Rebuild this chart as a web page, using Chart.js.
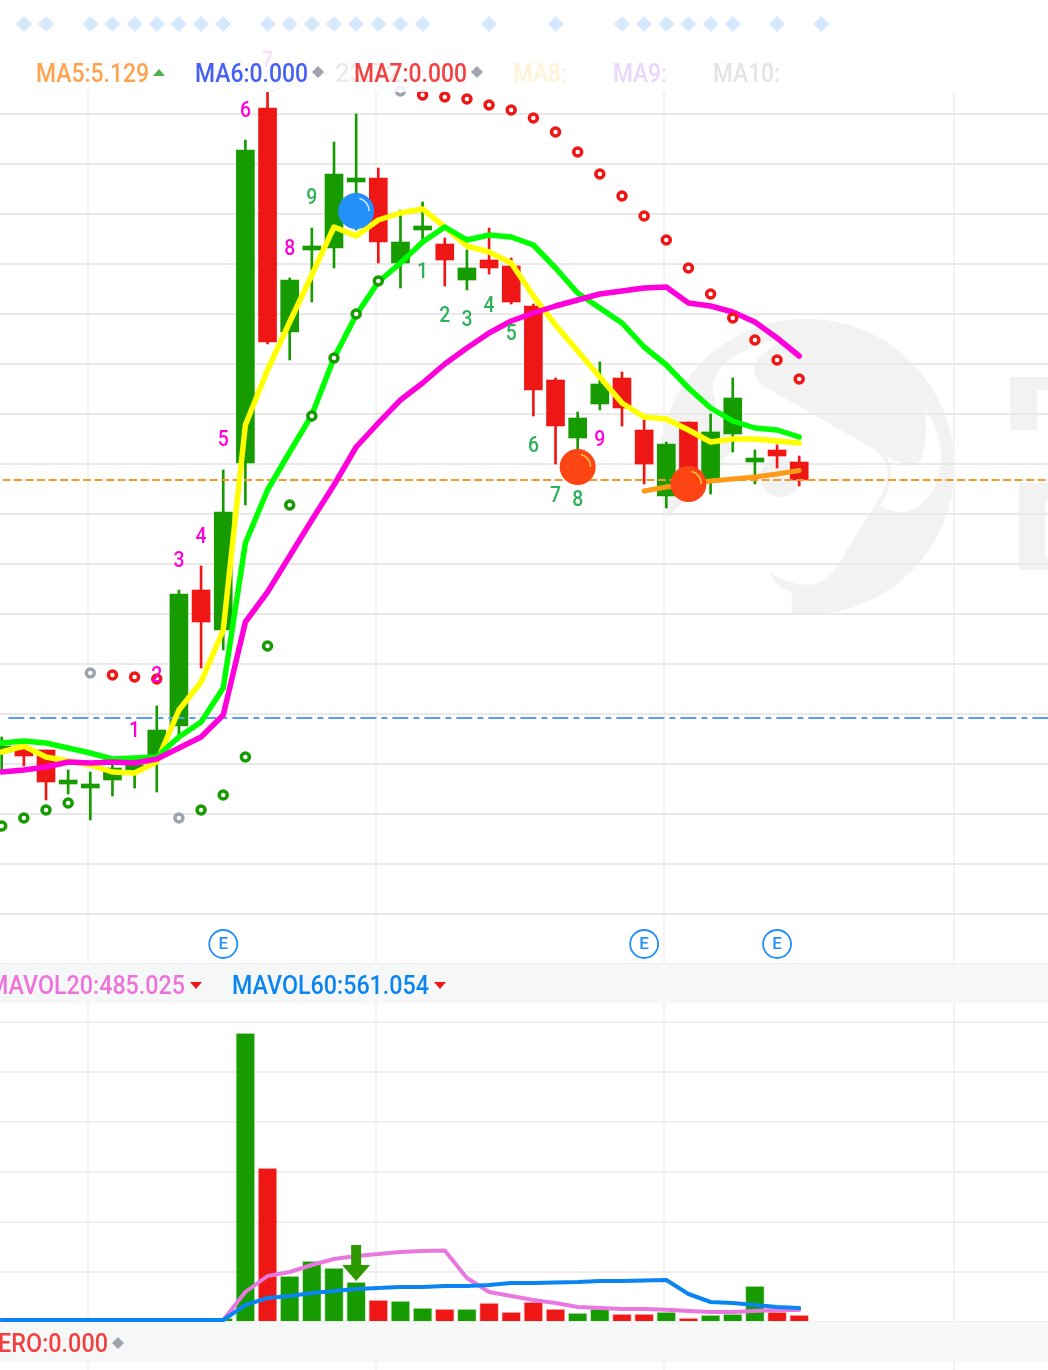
<!DOCTYPE html>
<html>
<head>
<meta charset="utf-8">
<title>K-line</title>
<script src="https://cdn.jsdelivr.net/npm/chart.js@4"></script>
<style>
html, body { margin: 0; padding: 0; background: #fff; overflow: hidden; }
canvas { display: block; }
</style>
</head>
<body>
<canvas id="kline" width="1048" height="1370"></canvas>
<script>
// candles, oldest first
const opens  = [4.566,4.570,4.570,4.502,4.494,4.510,4.528,4.558,4.618,4.890,4.810,5.144,5.854,5.406,5.570,5.574,5.706,5.714,5.544,5.610,5.582,5.510,5.550,5.538,5.458,5.310,5.194,5.262,5.314,5.210,5.078,5.226,5.110,5.202,5.146,5.170,5.146];
const closes = [4.578,4.558,4.506,4.510,4.502,4.534,4.540,4.610,4.882,4.826,5.046,5.770,5.386,5.510,5.578,5.722,5.714,5.586,5.586,5.618,5.550,5.534,5.534,5.466,5.290,5.218,5.234,5.302,5.254,5.142,5.182,5.110,5.206,5.274,5.154,5.158,5.110];
const highs  = [4.596,4.580,4.570,4.530,4.526,4.540,4.550,4.658,4.890,4.938,5.130,5.790,5.886,5.514,5.614,5.786,5.842,5.734,5.650,5.666,5.594,5.570,5.614,5.554,5.462,5.314,5.246,5.346,5.326,5.230,5.186,5.226,5.242,5.314,5.170,5.180,5.158];
const lows   = [4.526,4.538,4.470,4.482,4.430,4.478,4.494,4.486,4.590,4.734,4.770,5.060,5.382,5.350,5.466,5.534,5.610,5.544,5.494,5.590,5.498,5.490,5.522,5.462,5.238,5.142,5.150,5.250,5.218,5.102,5.054,5.090,5.082,5.166,5.102,5.134,5.098];

// moving averages
const maYellow  = [4.566,4.578,4.556,4.548,4.540,4.526,4.524,4.546,4.650,4.706,4.810,5.220,5.330,5.426,5.520,5.616,5.598,5.630,5.644,5.652,5.616,5.578,5.566,5.544,5.478,5.420,5.368,5.316,5.264,5.236,5.232,5.210,5.186,5.192,5.192,5.188,5.184];
const maGreen   = [4.584,4.588,4.584,4.574,4.564,4.552,4.554,4.556,4.596,4.626,4.694,4.984,5.090,5.166,5.240,5.354,5.440,5.506,5.544,5.586,5.616,5.590,5.600,5.596,5.580,5.534,5.484,5.454,5.424,5.376,5.340,5.294,5.254,5.228,5.214,5.210,5.196];
const maMagenta = [4.526,4.530,4.536,4.546,4.544,4.546,4.544,4.552,4.574,4.596,4.640,4.826,4.886,4.958,5.030,5.100,5.176,5.224,5.270,5.304,5.342,5.374,5.404,5.428,5.444,5.458,5.470,5.482,5.488,5.494,5.496,5.464,5.458,5.446,5.426,5.394,5.358];
const maOrange  = [null,null,null,null,null,null,null,null,null,null,null,null,null,null,null,null,null,null,null,null,null,null,null,null,null,null,null,null,null,5.088,5.096,5.102,5.108,5.112,5.116,5.122,5.129];

// SAR dots: g up, r down, n flip point
const sarValues = [4.418,4.434,4.450,4.464,4.724,4.720,4.716,4.712,4.434,4.450,4.480,4.556,4.778,5.060,5.238,5.354,5.442,5.508,5.888,5.880,5.876,5.872,5.860,5.850,5.834,5.806,5.766,5.722,5.678,5.638,5.590,5.534,5.482,5.434,5.390,5.350,5.312];
const sarKinds = 'ggggnrrrnggggggggg' + 'nrrrrrrrrrrrrrrrrrr';

// volume pane
const volumes = [0,0,0,0,0,0,0,0,0,0,160,11560,6160,1840,2440,2160,1600,880,840,560,520,520,760,400,800,520,360,520,320,320,400,160,280,320,1440,400,280];
const mavol20 = [80,80,80,80,80,80,80,80,80,80,80,1200,1840,2000,2280,2520,2640,2720,2800,2840,2860,1760,1200,1040,880,760,600,560,520,520,490,440,400,400,440,480,485];
const mavol60 = [80,80,80,80,80,80,80,80,80,80,80,680,960,1040,1160,1240,1320,1360,1400,1400,1440,1440,1480,1560,1560,1580,1600,1640,1640,1660,1680,1120,800,760,680,600,561];

// markers
const diamondIndex = [1,2,4,5,6,7,8,9,10,12,13,14,15,16,17,18,19,22,25,28,29,30,31,32,33,35,37];
const ballIndex = [16,26,31];
const ballPrice = [5.648,5.136,5.102];
const ballColor = ['#2490fb','#fc4513','#fc4513'];
const ballShine = ['rgba(255,255,255,0.8)','#ffc93c','#ffc93c'];
const eventIndex = [10,29,35];
const tdText  = ['1','2','3','4','5','6','7','8','9','1','2','3','4','5','6','7','8','9'];
const tdIndex = [6,7,8,9,10,11,12,13,14,19,20,21,22,23,24,25,26,27];
const tdPrice = [4.610,4.720,4.950,4.998,5.192,5.850,5.950,5.574,5.676,5.528,5.440,5.432,5.460,5.404,5.180,5.080,5.072,5.192];
const tdPurple = [1,1,1,1,1,1,1,1,0,0,0,0,0,0,0,0,0,1];

const lastPrice = 5.110;
const refPrice = 4.634;
const arrowIndex = 16;
const arrowVolume = 1640;

// grid positions
const priceTicks = [6.042,5.942,5.842,5.742,5.642,5.542,5.442,5.342,5.242,5.142,5.042,4.942,4.842,4.742,4.642,4.542,4.442,4.342,4.242,4.142];
const volumeTicks = [0,2000,4000,6000,8000,10000,12000];
const timeTicks = [3.9,16.9,29.9,43];

const GREEN = '#169b00';
const RED = '#ef1616';
const UI_FONT = 'Roboto, "Noto Sans", sans-serif';

const upOrDown = closes.map((c, i) => c >= opens[i] ? GREEN : RED);
const points = arr => arr.map((v, i) => ({ x: i, y: v })).filter(p => p.y !== null);

function lineSet(arr, color, order, width, axis) {
    return {
        type: 'line', data: points(arr), yAxisID: axis || 'y', order: order,
        borderColor: color, borderWidth: width, pointRadius: 0,
        borderJoinStyle: 'round', borderCapStyle: 'round'
    };
}

function levelSet(price, color, dash, order, fromX) {
    return {
        type: 'line', data: [{ x: fromX, y: price }, { x: 48, y: price }], order: order,
        borderColor: color, borderWidth: 2, borderDash: dash, pointRadius: 0
    };
}

const datasets = [
    // wicks first, bodies on top
    { type: 'bar', data: highs.map((h, i) => ({ x: i, y: [lows[i], h] })), backgroundColor: upOrDown, barThickness: 2, grouped: false, order: 21 },
    { type: 'bar', data: opens.map((o, i) => ({ x: i, y: [o, closes[i]] })), backgroundColor: upOrDown, barThickness: 18, grouped: false, order: 20 },
    { type: 'bar', data: points(volumes), yAxisID: 'y2', backgroundColor: upOrDown, borderColor: upOrDown.map(c => c === GREEN ? 'rgba(22,155,0,0.25)' : 'rgba(239,22,22,0.25)'), borderWidth: 1, barThickness: 19, grouped: false, order: 19 },
    levelSet(refPrice, '#559ef7', [16, 5, 6, 5], 18, 0.3),
    levelSet(lastPrice, '#f39a2a', [8, 3.5], 17, -1),
    lineSet(maYellow, '#ffff00', 15, 5.5),
    lineSet(maGreen, '#00ff00', 14, 5.5),
    lineSet(maMagenta, '#ff00dc', 13, 5.5),
    lineSet(maOrange, '#ff9a16', 12, 5),
    lineSet(mavol20, '#e878e0', 11, 4, 'y2'),
    lineSet(mavol60, '#0a84f0', 10, 4, 'y2'),
    {
        type: 'scatter', data: points(sarValues), order: 9, pointRadius: 4, pointBorderWidth: 3.5,
        pointBackgroundColor: '#fff',
        pointBorderColor: [...sarKinds].map(k => k === 'g' ? GREEN : k === 'r' ? RED : '#9da3ad')
    },
    {
        type: 'scatter', data: ballIndex.map((x, i) => ({ x: x, y: ballPrice[i] })), order: 8,
        pointRadius: 18, pointBorderWidth: 0, pointBackgroundColor: ballColor
    },
    {
        type: 'scatter', data: eventIndex.map(x => ({ x: x, y: 4.182 })), order: 7,
        pointRadius: 14, pointBorderWidth: 1.8, pointBackgroundColor: '#fff', pointBorderColor: '#2490fb'
    },
    {
        type: 'scatter', data: diamondIndex.map(x => ({ x: x, y: 6.022 })), order: 0,
        pointStyle: 'rectRot', pointRadius: 8, pointBorderWidth: 0, pointBackgroundColor: '#d6e8fd'
    }
];
const DIAMOND_SET = datasets.length - 1;

function label(ctx, text, x, y, color, size, maxW, align) {
    ctx.font = '500 ' + size + 'px ' + UI_FONT;
    ctx.fillStyle = color;
    ctx.textAlign = align || 'left';
    ctx.textBaseline = 'alphabetic';
    ctx.fillText(text, x, y, maxW);
}

function shape(ctx, color, pts) {
    ctx.fillStyle = color;
    ctx.beginPath();
    pts.forEach((p, i) => i ? ctx.lineTo(p[0], p[1]) : ctx.moveTo(p[0], p[1]));
    ctx.closePath();
    ctx.fill();
}

// faint logo behind the chart
function drawWatermark(ctx) {
    const G = '#f2f2f2';
    const zx = v => 660 + v / 3, zy = v => 300 + v / 3;
    ctx.save();
    ctx.fillStyle = G;
    ctx.beginPath();
    ctx.arc(zx(440), zy(500), 148, 0, Math.PI * 2);
    ctx.fill();
    ctx.fillStyle = '#fff';
    ctx.beginPath();
    ctx.moveTo(zx(415), zy(105));
    ctx.quadraticCurveTo(zx(120), zy(160), zx(165), zy(300));
    ctx.quadraticCurveTo(zx(180), zy(400), zx(225), zy(440));
    ctx.lineTo(zx(-40), zy(720));
    ctx.lineTo(zx(200), zy(1000));
    ctx.lineTo(zx(395), zy(960));
    ctx.lineTo(zx(395), zy(878));
    ctx.quadraticCurveTo(zx(350), zy(860), zx(325), zy(815));
    ctx.quadraticCurveTo(zx(470), zy(900), zx(530), zy(800));
    ctx.lineTo(zx(660), zy(590));
    ctx.quadraticCurveTo(zx(720), zy(490), zx(630), zy(440));
    ctx.lineTo(zx(310), zy(258));
    ctx.quadraticCurveTo(zx(260), zy(215), zx(300), zy(170));
    ctx.quadraticCurveTo(zx(360), zy(115), zx(415), zy(105));
    ctx.fill();
    ctx.beginPath();
    ctx.moveTo(zx(795), zy(325));
    ctx.quadraticCurveTo(zx(810), zy(520), zx(735), zy(495));
    ctx.lineTo(zx(680), zy(470));
    ctx.quadraticCurveTo(zx(715), zy(540), zx(660), zy(615));
    ctx.quadraticCurveTo(zx(760), zy(680), zx(830), zy(550));
    ctx.quadraticCurveTo(zx(870), zy(430), zx(795), zy(325));
    ctx.fill();
    ctx.fillStyle = G;
    ctx.beginPath();
    ctx.arc(zx(362), zy(532), 20, 0, Math.PI * 2);
    ctx.fill();
    // letters cut by the right edge
    ctx.fillRect(1010, 377, 38, 53);
    ctx.fillRect(1019, 483, 29, 87);
    ctx.fillStyle = '#fff';
    ctx.fillRect(1037, 390, 11, 40);
    ctx.fillRect(1045, 500, 3, 57);
    ctx.restore();
}

const klinePlugin = {
    id: 'kline',
    beforeDraw(chart) {
        const ctx = chart.ctx;
        ctx.save();
        ctx.fillStyle = '#fff';
        ctx.fillRect(0, 0, chart.width, chart.height);
        ctx.restore();
        drawWatermark(ctx);
    },
    // everything that sits under the header bands, right before the diamonds
    beforeDatasetDraw(chart, args) {
        if (args.index !== DIAMOND_SET) return;
        const ctx = chart.ctx, X = chart.scales.x, Y = chart.scales.y, Y2 = chart.scales.y2;
        ctx.save();

        ballIndex.forEach((x, i) => {
            ctx.beginPath();
            ctx.strokeStyle = ballShine[i];
            ctx.lineWidth = 1.6;
            ctx.arc(X.getPixelForValue(x), Y.getPixelForValue(ballPrice[i]), 13, -Math.PI * 0.42, 0);
            ctx.stroke();
        });

        eventIndex.forEach(x => {
            ctx.textBaseline = 'middle';
            ctx.textAlign = 'center';
            ctx.font = '500 17px ' + UI_FONT;
            ctx.fillStyle = '#2490fb';
            ctx.fillText('E', X.getPixelForValue(x), Y.getPixelForValue(4.182) + 1);
        });

        tdText.forEach((t, i) => {
            ctx.textBaseline = 'middle';
            ctx.textAlign = 'center';
            ctx.font = '500 22px ' + UI_FONT;
            ctx.fillStyle = tdPurple[i] ? '#ff00dc' : '#2eb15a';
            ctx.fillText(t, X.getPixelForValue(tdIndex[i]), Y.getPixelForValue(tdPrice[i]) + 1.5, 11);
        });

        const ax = X.getPixelForValue(arrowIndex), ay = Y2.getPixelForValue(arrowVolume);
        shape(ctx, '#2f9a00', [[ax - 5, ay - 36], [ax + 5, ay - 36], [ax + 5, ay - 16], [ax + 14, ay - 16], [ax, ay], [ax - 14, ay - 16], [ax - 5, ay - 16]]);

        // high price tag, washed out by the legend bar
        ctx.strokeStyle = '#999';
        ctx.lineWidth = 1;
        ctx.beginPath();
        ctx.moveTo(268, 92);
        ctx.lineTo(330, 72);
        ctx.stroke();
        label(ctx, '23.72', 335, 82, '#777', 26, 66);

        // header and pane bands
        ctx.fillStyle = 'rgba(255,255,255,0.85)';
        ctx.fillRect(0, 0, chart.width, 92);
        ctx.fillStyle = '#f6f8f8';
        ctx.fillRect(0, 964, chart.width, 39);
        ctx.fillRect(0, 1322, chart.width, 40);
        ctx.fillStyle = '#ececec';
        ctx.fillRect(0, 963, chart.width, 1);
        ctx.restore();
    },
    afterDatasetsDraw(chart) {
        const ctx = chart.ctx;
        ctx.save();
        label(ctx, 'MA5:5.129', 36, 82, '#ffa24d', 26, 113);
        shape(ctx, '#4caf50', [[153, 76], [165, 76], [159, 69]]);
        label(ctx, 'MA6:0.000', 195, 82, '#4560f5', 26, 113);
        shape(ctx, '#a0a4ad', [[318, 66], [324, 72], [318, 78], [312, 72]]);
        label(ctx, 'MA7:0.000', 354, 82, '#f44040', 26, 113);
        shape(ctx, '#a0a4ad', [[477, 66], [483, 72], [477, 78], [471, 72]]);
        label(ctx, 'MA8:', 513, 82, '#fff2d6', 26, 54);
        label(ctx, 'MA9:', 613, 82, '#e8d8fc', 26, 54);
        label(ctx, 'MA10:', 713, 82, '#e4e4e4', 26, 67);

        label(ctx, 'MAVOL20:485.025', -12, 994, '#ee72dc', 26, 197);
        shape(ctx, RED, [[190, 982], [202, 982], [196, 989]]);
        label(ctx, 'MAVOL60:561.054', 232, 994, '#0a84f0', 26, 197);
        shape(ctx, RED, [[434, 982], [446, 982], [440, 989]]);
        label(ctx, 'ZERO:0.000', -16, 1352, '#f44040', 26, 124);
        shape(ctx, '#a0a4ad', [[118, 1337], [124, 1343], [118, 1349], [112, 1343]]);
        ctx.restore();
    }
};

const chart = new Chart(document.getElementById('kline').getContext('2d'), {
    data: { datasets },
    plugins: [klinePlugin],
    options: {
        responsive: false,
        animation: false,
        devicePixelRatio: 1,
        layout: { padding: 0, autoPadding: false },
        plugins: { legend: { display: false }, tooltip: { enabled: false } },
        scales: {
            x: {
                type: 'linear', min: -0.0767, max: 47.23, offset: false,
                grid: { color: '#f2f3f3', lineWidth: 2, drawTicks: false, offset: false },
                border: { display: false },
                ticks: { display: false },
                afterBuildTicks(axis) { axis.ticks = timeTicks.map(v => ({ value: v })); }
            },
            y: {
                min: 3.33, max: 6.07,
                grid: { color: '#e9e9e9', lineWidth: 2, drawTicks: false },
                border: { display: false },
                ticks: { display: false },
                afterBuildTicks(axis) { axis.ticks = priceTicks.map(v => ({ value: v })); }
            },
            y2: {
                min: -1920, max: 52880, position: 'right',
                grid: { color: '#eeeeee', lineWidth: 2, drawTicks: false },
                border: { display: false },
                ticks: { display: false },
                afterBuildTicks(axis) { axis.ticks = volumeTicks.map(v => ({ value: v })); }
            }
        }
    }
});
</script>
</body>
</html>
